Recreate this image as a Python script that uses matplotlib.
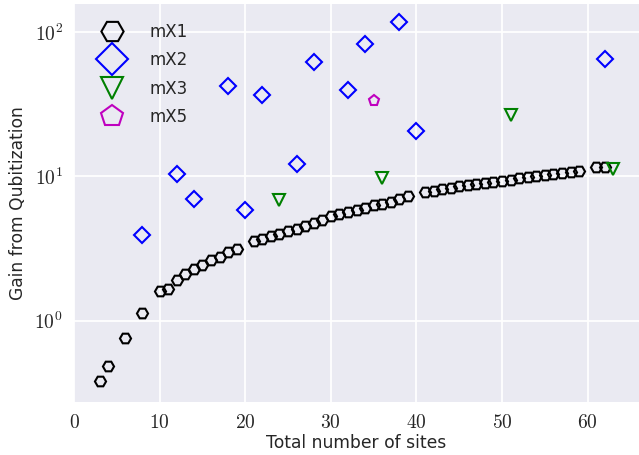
import numpy as np
import matplotlib
matplotlib.use("Agg")
import matplotlib.pyplot as plt
from matplotlib.ticker import FixedLocator, FuncFormatter

# data
x_mx1 = [3, 4, 6, 8, 10, 11, 12, 13, 14, 15, 16, 17, 18, 19,
         21, 22, 23, 24, 25, 26, 27, 28, 29, 30, 31, 32, 33, 34, 35, 36, 37, 38, 39,
         41, 42, 43, 44, 45, 46, 47, 48, 49, 50, 51, 52, 53, 54, 55, 56, 57, 58, 59,
         61, 62]
y_mx1 = [0.38, 0.487, 0.76, 1.13, 1.6, 1.67, 1.91, 2.10, 2.27, 2.43, 2.62, 2.75, 2.99, 3.12,
         3.56, 3.70, 3.85, 4.00, 4.17, 4.33, 4.52, 4.77, 5.02, 5.30, 5.44, 5.64, 5.83, 6.05,
         6.28, 6.48, 6.69, 6.98, 7.28,
         7.76, 7.95, 8.15, 8.35, 8.5, 8.7, 8.85, 9.0, 9.2, 9.35, 9.5, 9.7, 9.85, 10.0,
         10.2, 10.35, 10.55, 10.75, 10.95,
         11.55, 11.6]

x_mx2 = [8, 12, 14, 18, 20, 22, 26, 28, 32, 34, 38, 40, 62]
y_mx2 = [3.95, 10.3, 6.95, 42.4, 5.8, 36.7, 12.1, 62, 39.3, 82, 117, 20.7, 65]

x_mx3 = [24, 36, 51, 63]
y_mx3 = [6.9, 9.8, 26.5, 11.3]

x_mx5 = [35]
y_mx5 = [33.4]

plt.rcParams['mathtext.fontset'] = 'cm'
plt.rcParams['font.family'] = ['DejaVu Sans']
plt.rcParams['text.color'] = '#262626'
plt.rcParams['axes.labelcolor'] = '#262626'

fig = plt.figure(figsize=(6.39, 4.55), dpi=100)
ax = fig.add_axes([74/639, 1 - 402/455, 1 - 74/639, 398/455])
ax.set_facecolor('#EAEAF2')
for s in ax.spines.values():
    s.set_visible(False)

ms = 8
mew = 1.5
ax.plot(x_mx1, y_mx1, 'H', ms=ms, mew=mew, mfc='none', mec='black', ls='none', label='mX1', zorder=3)
ax.plot(x_mx2, y_mx2, 'D', ms=ms, mew=mew, mfc='none', mec='blue', ls='none', label='mX2', zorder=3)
ax.plot(x_mx3, y_mx3, 'v', ms=ms, mew=mew, mfc='none', mec='green', ls='none', label='mX3', zorder=3)
ax.plot(x_mx5, y_mx5, 'p', ms=ms, mew=mew, mfc='none', mec='m', ls='none', label='mX5', zorder=3)

ax.set_yscale('log')
ax.set_xlim(0, 66)
ax.set_ylim(0.2735, 156)

ax.xaxis.set_major_locator(FixedLocator([0, 10, 20, 30, 40, 50, 60]))
ax.xaxis.set_major_formatter(FuncFormatter(lambda v, p: r'$%d$' % v))
ax.yaxis.set_major_locator(FixedLocator([1, 10, 100]))
ax.yaxis.set_major_formatter(FuncFormatter(lambda v, p: r'$10^{%d}$' % round(np.log10(v))))
ax.yaxis.set_minor_locator(FixedLocator([]))
ax.tick_params(axis='both', which='both', length=0, labelsize=14, colors='#262626', pad=8)

ax.grid(True, color='white', lw=1.3)
ax.set_axisbelow(True)

ax.set_xlabel('Total number of sites', fontsize=12.3, labelpad=1.5)
ax.set_ylabel('Gain from Qubitization', fontsize=12.3, labelpad=5.5)

ax.legend(loc='upper left', bbox_to_anchor=(0.009, 0.995), frameon=False, markerscale=2,
          fontsize=12, handletextpad=1.2, labelspacing=0.63, borderaxespad=0.6, borderpad=0.4)

fig.savefig('out.png', dpi=100)
